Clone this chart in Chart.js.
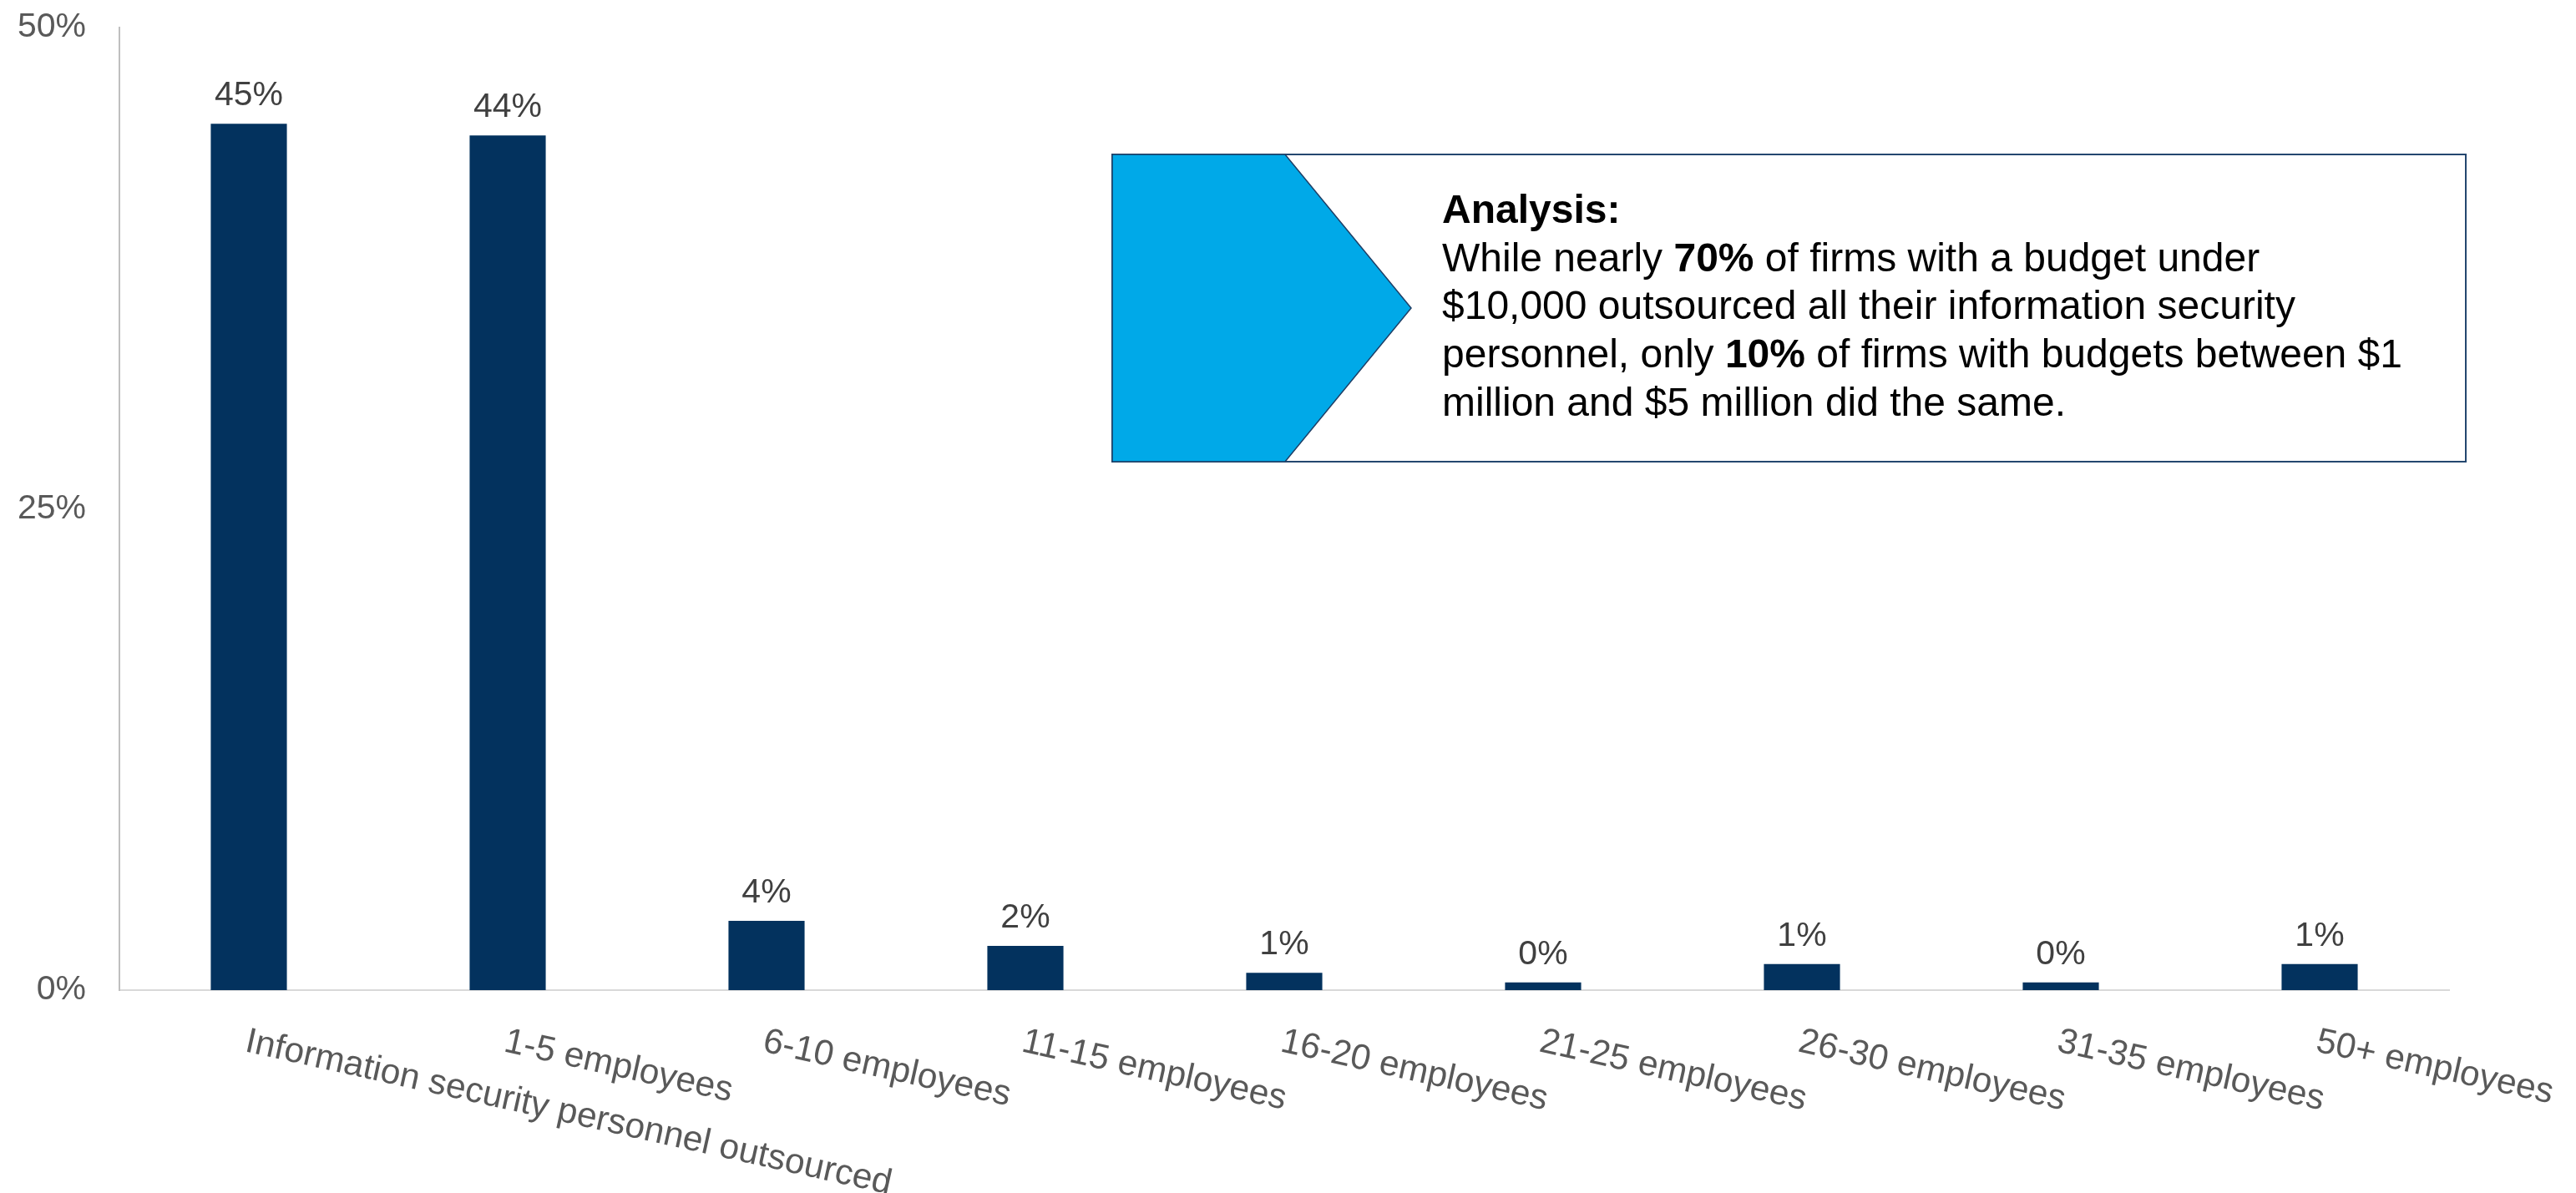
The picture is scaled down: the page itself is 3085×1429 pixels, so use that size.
<!DOCTYPE html>
<html>
<head>
<meta charset="utf-8">
<title>Information security personnel outsourced</title>
<script src="https://cdn.jsdelivr.net/npm/chart.js@4.4.1/dist/chart.umd.min.js"></script>
<style>
  html, body { margin: 0; padding: 0; background: #fff; }
  canvas { display: block; }
</style>
</head>
<body>
<canvas id="barChart" width="3085" height="1429"></canvas>
<script>
// categories and shares (% of firms)
var categories = [
    'Information security personnel outsourced',
    '1-5 employees',
    '6-10 employees',
    '11-15 employees',
    '16-20 employees',
    '21-25 employees',
    '26-30 employees',
    '31-35 employees',
    '50+ employees'
]
var shares = [45.0, 44.4, 3.6, 2.3, 0.9, 0.4, 1.35, 0.4, 1.35]
var yTicks = [0, 25, 50]

// callout text, each line is a list of [text, bold] runs
var analysisLines = [
    [['Analysis:', true]],
    [['While nearly ', false], ['70%', true], [' of firms with a budget under', false]],
    [['$10,000 outsourced all their information security', false]],
    [['personnel, only ', false], ['10%', true], [' of firms with budgets between $1', false]],
    [['million and $5 million did the same.', false]]
]

var FONT = '"Liberation Sans", Arial, Helvetica, sans-serif'

// percentage above each bar
var valueLabels = {
    id: 'valueLabels',
    afterDatasetsDraw: function (chart) {
        var ctx = chart.ctx
        var meta = chart.getDatasetMeta(0)
        ctx.save()
        ctx.font = '41px ' + FONT
        ctx.fillStyle = '#404040'
        ctx.textAlign = 'center'
        ctx.textBaseline = 'alphabetic'
        meta.data.forEach(function (bar, i) {
            ctx.fillText(Math.round(shares[i]) + '%', bar.x, bar.y - 22)
        })
        ctx.restore()
    }
}

// category names slanted downwards, starting at the tick
var slantedLabels = {
    id: 'slantedLabels',
    afterDraw: function (chart) {
        var ctx = chart.ctx
        var xScale = chart.scales.x
        var angle = 12.5 * Math.PI / 180
        ctx.save()
        ctx.font = '42.5px ' + FONT
        ctx.fillStyle = '#595959'
        ctx.textAlign = 'left'
        ctx.textBaseline = 'alphabetic'
        categories.forEach(function (label, i) {
            var px = xScale.getPixelForTick(i)
            ctx.save()
            ctx.translate(px - 6, xScale.top + 73)
            ctx.rotate(angle)
            ctx.fillText(label, 0, 0)
            ctx.restore()
        })
        ctx.restore()
    }
}

// boxed callout with the blue arrow on its left
var analysisBox = {
    id: 'analysisBox',
    afterDraw: function (chart) {
        var ctx = chart.ctx
        var left = 1332, top = 185, right = 2953, bottom = 553
        var mid = (top + bottom) / 2
        ctx.save()
        ctx.fillStyle = '#ffffff'
        ctx.fillRect(left, top, right - left, bottom - top)
        ctx.lineWidth = 2
        ctx.strokeStyle = '#24476F'
        ctx.strokeRect(left, top, right - left, bottom - top)

        ctx.beginPath()
        ctx.moveTo(left, top)
        ctx.lineTo(1539, top)
        ctx.lineTo(1690, mid)
        ctx.lineTo(1539, bottom)
        ctx.lineTo(left, bottom)
        ctx.closePath()
        ctx.fillStyle = '#00A9E8'
        ctx.fill()
        ctx.lineWidth = 1.5
        ctx.strokeStyle = '#1F3F66'
        ctx.stroke()

        ctx.fillStyle = '#000000'
        ctx.textAlign = 'left'
        ctx.textBaseline = 'alphabetic'
        analysisLines.forEach(function (runs, row) {
            var x = 1727
            var y = 267 + row * 57.7
            runs.forEach(function (run) {
                ctx.font = (run[1] ? 'bold ' : '') + '48px ' + FONT
                ctx.fillText(run[0], x, y)
                x += ctx.measureText(run[0]).width
            })
        })
        ctx.restore()
    }
}

var barCanvas = document.getElementById('barChart').getContext('2d')
new Chart(barCanvas, {
    type: 'bar',
    data: {
        labels: categories,
        datasets: [
            {
                data: shares,
                backgroundColor: '#03325E',
                borderWidth: 0,
                barPercentage: 0.294,
                categoryPercentage: 1.0
            }
        ]
    },
    options: {
        responsive: false,
        animation: false,
        layout: {
            padding: { top: 33, right: 152, bottom: 0, left: 0 }
        },
        plugins: {
            legend: { display: false },
            tooltip: { enabled: false }
        },
        scales: {
            x: {
                grid: { display: false, drawTicks: false },
                border: { display: true, color: '#D9D9D9', width: 2 },
                ticks: { display: false },
                afterFit: function (scale) { scale.height = 243 }
            },
            y: {
                min: 0,
                max: 50,
                grid: { display: false, drawTicks: false },
                border: { display: true, color: '#BFBFBF', width: 2 },
                afterBuildTicks: function (scale) {
                    scale.ticks = yTicks.map(function (v) { return { value: v } })
                },
                ticks: {
                    padding: 40,
                    color: '#595959',
                    font: { size: 41, family: FONT },
                    callback: function (value) { return value + '%' }
                },
                afterFit: function (scale) {
                    scale.width = 143
                    // keep the tick padding from pushing the plot top down
                    scale.paddingTop = 0
                    scale.paddingBottom = 0
                }
            }
        }
    },
    plugins: [valueLabels, slantedLabels, analysisBox]
})
</script>
</body>
</html>
